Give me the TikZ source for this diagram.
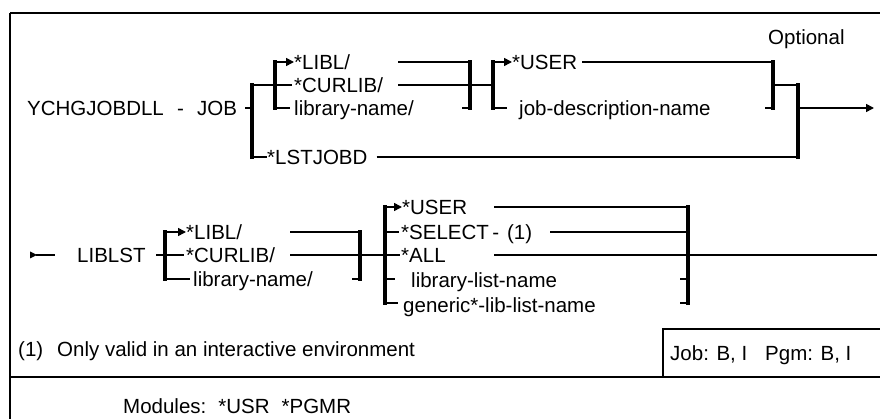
\documentclass[tikz,border=0pt]{standalone}
\usepackage{fontspec}
\setmainfont{Liberation Sans}
\usetikzlibrary{arrows.meta}
\begin{document}
\begin{tikzpicture}[x=1pt,y=-1pt,
  txt/.style={anchor=west,inner sep=0pt,font=\fontsize{20.5}{24}\selectfont,text height=14.5pt,text depth=0pt},
  rail/.style={line width=1.6pt},
  bar/.style={line width=3.6pt,line cap=rect},
  framel/.style={line width=2pt},
  arrowrail/.style={rail,-{Triangle[length=8pt,width=8pt]}}
]
\useasboundingbox (0,0) rectangle (880,419);
% frame
\coordinate (fbl) at (10,419);
\coordinate (ftl) at (10,13);
\coordinate (ftr) at (880,13);
\coordinate (sepl) at (10,377);
\coordinate (sepr) at (880,377);
\coordinate (jbb) at (663,377);
\coordinate (jbt) at (663,329);
\coordinate (jbr) at (880,329);
\draw[line width=2.6pt] (fbl) -- (ftl);
\draw[framel] (ftl) -- (ftr);
\draw[framel] (sepl) -- (sepr);
\draw[framel] (jbb) -- (jbt) -- (jbr);

% ---------- row 1 ----------
\node[txt] (cmd) at (27,108) {YCHGJOBDLL};
\node[txt] (dsh) at (177,108) {-};
\node[txt] (job) at (197,108) {JOB};
\node[txt] (opt) at (768,37) {Optional};
\node[txt] (libl1) at (294,62) {*LIBL/};
\node[txt] (cur1) at (294,85) {*CURLIB/};
\node[txt] (lib1) at (294,108) {library-name/};
\node[txt] (lst) at (267,157) {*LSTJOBD};
\node[txt] (user1) at (512,62) {*USER};
\node[txt] (jdn) at (519,108) {job-description-name};

\coordinate (j0) at (245,108);
\coordinate (j1) at (252,108);
\coordinate (b1t) at (252,85);
\coordinate (b1b) at (252,157);
\coordinate (b2t) at (275,62);
\coordinate (b2m) at (275,85);
\coordinate (b2b) at (275,108);
\coordinate (b3t) at (470,62);
\coordinate (b3b) at (470,108);
\coordinate (b4t) at (493,62);
\coordinate (b4m) at (493,85);
\coordinate (b4b) at (493,108);
\coordinate (b5t) at (773,62);
\coordinate (b5m) at (773,85);
\coordinate (b5b) at (773,108);
\coordinate (b6t) at (798,85);
\coordinate (b6m) at (798,108);
\coordinate (b6b) at (798,157);
\coordinate (out1) at (874,108);

\draw[rail] (j0) -- (j1);
\draw[bar] (b1t) -- (b1b);
\draw[rail] (b1t) -- (b2m);
\draw[bar] (b2t) -- (b2b);
\draw[arrowrail] (b2t) -- (libl1.west);
\draw[rail] (b2m) -- ([xshift=-2pt]cur1.west);
\draw[rail] (b2b) -- ([xshift=-4pt]lib1.west);
\draw[rail] (b1b) -- (lst.west);
\draw[rail] ([xshift=9pt]lst.east) -- (b6b);
\draw[rail] (398,62) -- (b3t);
\draw[rail] (398,85) -- (b4m);
\draw[bar] (b3t) -- (b3b);
\draw[rail] ([xshift=-8pt]b3b) -- (b3b);
\draw[bar] (b4t) -- (b4b);
\draw[arrowrail] (b4t) -- (user1.west);
\draw[rail] (b4b) -- ([xshift=-12pt]jdn.west);
\draw[rail] (582,62) -- (b5t);
\draw[bar] (b5t) -- (b5b);
\draw[rail] ([xshift=-8pt]b5b) -- (b5b);
\draw[rail] (b5m) -- (b6t);
\draw[bar] (b6t) -- (b6b);
\draw[arrowrail] (b6m) -- (out1);

% ---------- row 2 ----------
\coordinate (st0) at (30,255);
\coordinate (st1) at (55,255);
\fill (30,251.5) -- (37,255) -- (30,258.5) -- cycle;
\draw[rail] (36,255) -- (st1);
\node[txt] (liblst) at (77,255) {LIBLST};
\node[txt] (libl2) at (186,232) {*LIBL/};
\node[txt] (cur2) at (186,255) {*CURLIB/};
\node[txt] (lib2) at (193,279) {library-name/};
\node[txt] (user2) at (402,207) {*USER};
\node[txt] (sel) at (401,232) {*SELECT\,-\hspace{8pt}(1)};
\node[txt] (all) at (401,255) {*ALL};
\node[txt] (lln) at (411,280) {library-list-name};
\node[txt] (gen) at (403,305) {generic*-lib-list-name};

\coordinate (c0) at (156,255);
\coordinate (c1t) at (165,232);
\coordinate (c1m) at (165,255);
\coordinate (c1b) at (165,279);
\coordinate (c2t) at (360,232);
\coordinate (c2b) at (360,279);
\coordinate (c3t) at (385,207);
\coordinate (c3a) at (385,232);
\coordinate (c3m) at (385,255);
\coordinate (c3l) at (385,279);
\coordinate (c3b) at (385,303);
\coordinate (c4t) at (688,207);
\coordinate (c4a) at (688,232);
\coordinate (c4l) at (688,279);
\coordinate (c4b) at (688,303);
\coordinate (out2) at (877,255);

\draw[rail] (c0) -- (c1m);
\draw[bar] (c1t) -- (c1b);
\draw[arrowrail] (c1t) -- (libl2.west);
\draw[rail] (c1m) -- ([xshift=-2pt]cur2.west);
\draw[rail] (c1b) -- ([xshift=-3pt]lib2.west);
\draw[rail] (290,232) -- (c2t);
\draw[rail] (290,255) -- (c3m);
\draw[bar] (c2t) -- (c2b);
\draw[rail] ([xshift=-8pt]c2b) -- (c2b);
\draw[bar] (c3t) -- (c3b);
\draw[arrowrail] (c3t) -- (user2.west);
\draw[rail] (c3a) -- ([xshift=-2pt]sel.west);
\draw[rail] (c3m) -- ([xshift=-1pt]all.west);
\draw[rail] (c3l) -- (395,279);
\draw[rail] (c3b) -- (398,303);
\draw[rail] (494,207) -- (c4t);
\draw[rail] (550,232) -- (c4a);
\draw[rail] (494,255) -- (out2);
\draw[bar] (c4t) -- (c4b);
\draw[rail] ([xshift=-8pt]c4l) -- (c4l);
\draw[rail] ([xshift=-8pt]c4b) -- (c4b);

% ---------- notes ----------
\node[txt] (n1) at (18,349) {(1)};
\node[txt] (n2) at (57,349) {Only valid in an interactive environment};
\node[txt] (jb1) at (670,353) {Job: B, I};
\node[txt] (jb2) at (765,353) {Pgm: B, I};
\node[txt] (mods) at (123,406) {Modules:\hspace{12pt}*USR\hspace{12pt}*PGMR};
\end{tikzpicture}
\end{document}
